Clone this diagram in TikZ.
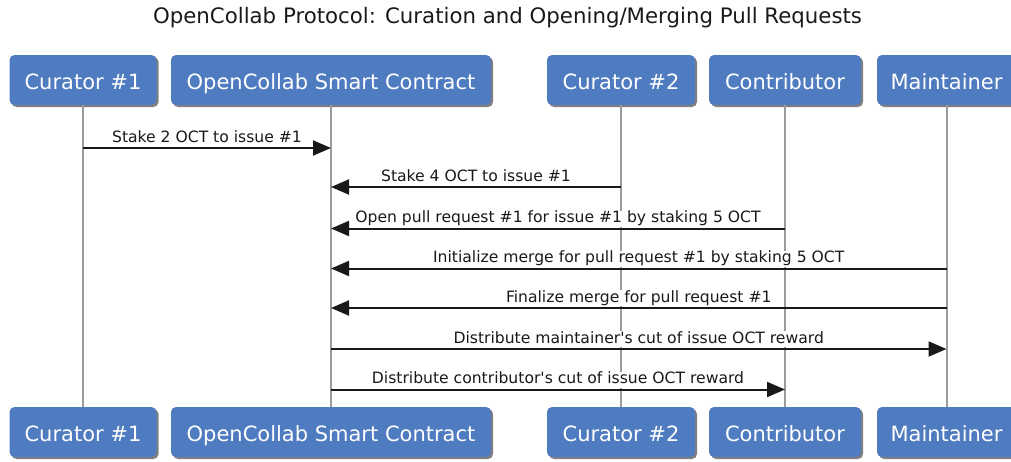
\documentclass[tikz,border=0pt]{standalone}
\usepackage{fontspec}
\setmainfont{DejaVu Sans}
\usetikzlibrary{arrows.meta,shadows}
\definecolor{boxblue}{RGB}{79,123,192}
\definecolor{lifegray}{RGB}{155,155,155}
\definecolor{inkdark}{RGB}{25,25,25}
\begin{document}
\begin{tikzpicture}[x=1pt,y=-1pt,
  actor/.style={draw=none, fill=boxblue, rounded corners=5pt, minimum height=50pt,
    inner sep=0pt, text height=21pt, text depth=2pt, text=white, font=\fontsize{21}{25}\selectfont,
    drop shadow={shadow xshift=2pt, shadow yshift=-2pt, opacity=0.5, fill=black}},
  lifeline/.style={draw=lifegray, line width=2pt},
  msg/.style={draw=inkdark, line width=2pt, -{Triangle[length=18pt,width=15pt]}},
  lbl/.style={fill=white, inner sep=0.5pt, text depth=3.5pt, text height=11.5pt,
    anchor=south, yshift=1pt, text=inkdark, font=\fontsize{15.6}{18}\selectfont},
  titlestyle/.style={text=inkdark, font=\fontsize{21.3}{25}\selectfont, inner sep=0pt}]
\useasboundingbox (0,0) rectangle (1011,461);

\node[titlestyle] (title) at (507.5,18) {OpenCollab Protocol: Curation and Opening/Merging Pull Requests};

% top actors
\node[actor, minimum width=147pt] (c1t) at (83,80) {Curator \#1};
\node[actor, minimum width=320pt] (sct) at (331,80) {OpenCollab Smart Contract};
\node[actor, minimum width=148pt] (c2t) at (621,80) {Curator \#2};
\node[actor, minimum width=152pt] (cot) at (785,80) {Contributor};
\node[actor, minimum width=139pt] (mat) at (946.5,80) {Maintainer};

% bottom actors
\node[actor, minimum width=147pt] (c1b) at (83,432) {Curator \#1};
\node[actor, minimum width=320pt] (scb) at (331,432) {OpenCollab Smart Contract};
\node[actor, minimum width=148pt] (c2b) at (621,432) {Curator \#2};
\node[actor, minimum width=152pt] (cob) at (785,432) {Contributor};
\node[actor, minimum width=139pt] (mab) at (946.5,432) {Maintainer};

% lifelines
\draw[lifeline] (c1t.south) -- (c1b.north);
\draw[lifeline] (sct.south) -- (scb.north);
\draw[lifeline] (c2t.south) -- (c2b.north);
\draw[lifeline] (cot.south) -- (cob.north);
\draw[lifeline] (mat.south) -- (mab.north);

% message end points
\coordinate (m1a) at (c1t |- 0,148);   \coordinate (m1b) at (sct |- 0,148);
\coordinate (m2a) at (c2t |- 0,187);   \coordinate (m2b) at (sct |- 0,187);
\coordinate (m3a) at (cot |- 0,228.5); \coordinate (m3b) at (sct |- 0,228.5);
\coordinate (m4a) at (mat |- 0,268.5); \coordinate (m4b) at (sct |- 0,268.5);
\coordinate (m5a) at (mat |- 0,308);   \coordinate (m5b) at (sct |- 0,308);
\coordinate (m6a) at (sct |- 0,349);   \coordinate (m6b) at (mat |- 0,349);
\coordinate (m7a) at (sct |- 0,389.5); \coordinate (m7b) at (cot |- 0,389.5);

% messages
\draw[msg] (m1a) -- node[lbl] (l1) {Stake 2 OCT to issue \#1} (m1b);
\draw[msg] (m2a) -- node[lbl] (l2) {Stake 4 OCT to issue \#1} (m2b);
\draw[msg] (m3a) -- node[lbl] (l3) {Open pull request \#1 for issue \#1 by staking 5 OCT} (m3b);
\draw[msg] (m4a) -- node[lbl] (l4) {Initialize merge for pull request \#1 by staking 5 OCT} (m4b);
\draw[msg] (m5a) -- node[lbl] (l5) {Finalize merge for pull request \#1} (m5b);
\draw[msg] (m6a) -- node[lbl] (l6) {Distribute maintainer\textquotesingle s cut of issue OCT reward} (m6b);
\draw[msg] (m7a) -- node[lbl] (l7) {Distribute contributor\textquotesingle s cut of issue OCT reward} (m7b);
\end{tikzpicture}
\end{document}
